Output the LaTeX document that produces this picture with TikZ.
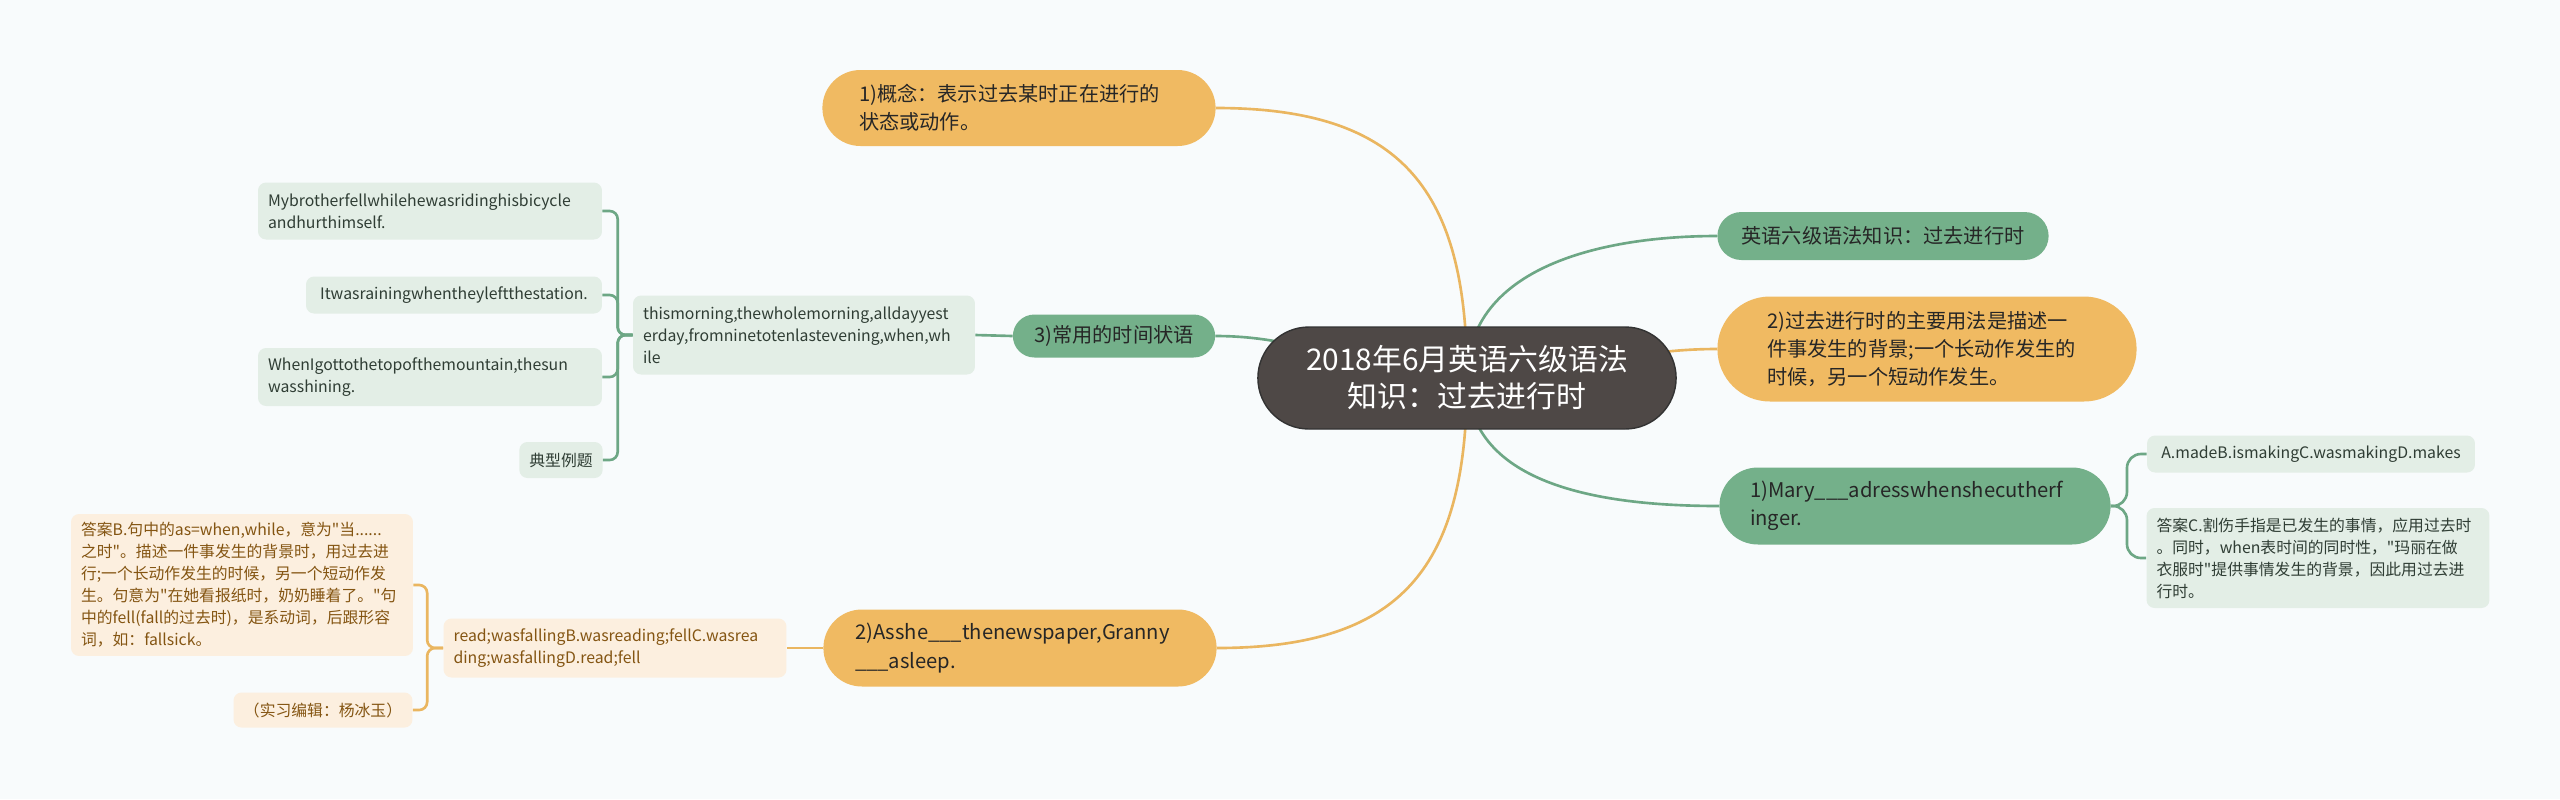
\documentclass[tikz,border=0pt]{standalone}
\usepackage{fontspec}
\setmainfont{Noto Sans CJK SC}[Ligatures=TeXOff]
\usetikzlibrary{shapes.misc}
\usetikzlibrary{backgrounds}
\definecolor{bgc}{HTML}{F8FBFC}
\definecolor{rootc}{HTML}{4E4846}
\definecolor{orangec}{HTML}{F0BA62}
\definecolor{greenc}{HTML}{74B08A}
\definecolor{oleafc}{HTML}{FCEFDF}
\definecolor{gleafc}{HTML}{E3EEE6}
\definecolor{olinec}{HTML}{EAB660}
\definecolor{glinec}{HTML}{6DA785}
\definecolor{otextc}{HTML}{845512}
\definecolor{gtextc}{HTML}{2F3D34}

\begin{document}
\begin{tikzpicture}[x=0.02cm, y=-0.02cm,
	rootnode/.style={rounded rectangle, fill=rootc, draw=black!80, line width=0.8pt, text=white,
		font=\fontsize{17}{21}\selectfont, align=center, minimum width=8.6cm, minimum height=2.04cm},
	onode/.style={rounded rectangle, fill=orangec, text=black!85, font=\fontsize{11.5}{16}\selectfont, align=left},
	gnode/.style={rounded rectangle, fill=greenc, text=black!85, font=\fontsize{11.5}{16}\selectfont, align=left},
	oleaf/.style={rectangle, rounded corners=0.16cm, fill=oleafc, text=otextc, font=\fontsize{9}{12.5}\selectfont,
		align=left, inner xsep=0.2cm, inner ysep=0.1cm},
	gleaf/.style={rectangle, rounded corners=0.16cm, fill=gleafc, text=gtextc, font=\fontsize{9}{12.5}\selectfont,
		align=left, inner xsep=0.2cm, inner ysep=0.1cm},
	oline/.style={draw=olinec, line width=1.5pt},
	gline/.style={draw=glinec, line width=1.5pt}]
	\useasboundingbox (0,0) rectangle (2560,799);
		%% centre
			\node[rootnode] (root) at (1467,378) {2018年6月英语六级语法\\知识：过去进行时};
		%% first level
			\node[onode, minimum width=8.1cm, minimum height=1.52cm, text width=6.4cm] (gainian) at (1019,108)
				{1)概念：表示过去某时正在进行的\\状态或动作。};
			\node[gnode, minimum width=6.86cm, minimum height=0.96cm] (yingyu) at (1883,236)
				{英语六级语法知识：过去进行时};
			\node[onode, minimum width=8.62cm, minimum height=2.1cm, text width=6.4cm] (guoqu) at (1927,349)
				{2)过去进行时的主要用法是描述一\\件事发生的背景;一个长动作发生的\\时候，另一个短动作发生。};
			\node[gnode, minimum width=8.06cm, minimum height=1.54cm, text width=6.6cm] (mary) at (1915,506)
				{1)Mary\_\_\_adresswhenshecutherf\\inger.};
			\node[gnode, minimum width=4.28cm, minimum height=0.86cm] (changyong) at (1114,336)
				{3)常用的时间状语};
			\node[onode, minimum width=8.1cm, minimum height=1.54cm, text width=6.6cm] (asshe) at (1020,648)
				{2)Asshe\_\_\_thenewspaper,Granny\\\_\_\_asleep.};
		%% leaves, left green
			\node[gleaf, minimum width=6.84cm, minimum height=1.58cm, text width=6.44cm] (thismorning) at (804,335)
				{thismorning,thewholemorning,alldayyest\\erday,fromninetotenlastevening,when,wh\\ile};
			\node[gleaf, minimum width=6.88cm, minimum height=1.14cm, text width=6.48cm] (mybrother) at (430,211)
				{Mybrotherfellwhilehewasridinghisbicycle\\andhurthimself.};
			\node[gleaf, minimum width=5.92cm, minimum height=0.74cm] (itwas) at (454,295)
				{Itwasrainingwhentheyleftthestation.};
			\node[gleaf, minimum width=6.88cm, minimum height=1.16cm, text width=6.48cm] (wheni) at (430,377)
				{WhenIgottothetopofthemountain,thesun\\wasshining.};
			\node[gleaf, minimum width=1.64cm, minimum height=0.72cm] (dianxing) at (561,460) {典型例题};
		%% leaves, right green
			\node[gleaf, minimum width=6.56cm, minimum height=0.74cm] (amade) at (2311,454)
				{A.madeB.ismakingC.wasmakingD.makes};
			\node[gleaf, minimum width=6.86cm, minimum height=2.0cm, text width=6.46cm] (daanc) at (2318,558)
				{答案C.割伤手指是已发生的事情，应用过去时\\。同时，when表时间的同时性，"玛丽在做\\衣服时"提供事情发生的背景，因此用过去进\\行时。};
		%% leaves, left orange
			\node[oleaf, minimum width=6.86cm, minimum height=1.18cm, text width=6.46cm] (read) at (615,648)
				{read;wasfallingB.wasreading;fellC.wasrea\\ding;wasfallingD.read;fell};
			\node[oleaf, minimum width=6.84cm, minimum height=2.84cm, text width=6.44cm] (daanb) at (242,585)
				{答案B.句中的as=when,while，意为"当......\\之时"。描述一件事发生的背景时，用过去进\\行;一个长动作发生的时候，另一个短动作发\\生。句意为"在她看报纸时，奶奶睡着了。"句\\中的fell(fall的过去时)，是系动词，后跟形容\\词，如：fallsick。};
			\node[oleaf, minimum width=3.58cm, minimum height=0.7cm] (shixi) at (323,710)
				{（实习编辑：杨冰玉）};
		%% connectors
			\begin{scope}[on background layer]
				\fill[bgc] (0,0) rectangle (2560,799);
				\draw[oline] (root.center) to[out=90,in=0,looseness=1.3] (gainian.east);
				\draw[gline] (root.center) to[out=90,in=180] (yingyu.west);
				\draw[oline] (root.center) to[out=0,in=180] (guoqu.west);
				\draw[gline] (root.center) to[out=-90,in=180] (mary.west);
				\draw[gline] (root.center) to[out=180,in=0] (changyong.east);
				\draw[oline] (root.center) to[out=-90,in=0,looseness=1.3] (asshe.east);
			\end{scope}
			\draw[gline] (changyong.west) -- (thismorning.east);
			\draw[oline] (asshe.west) -- (read.east);
			\draw[gline, rounded corners=0.16cm] (thismorning.west) -- ++(-15,0) |- (mybrother.east);
			\draw[gline, rounded corners=0.16cm] (thismorning.west) -- ++(-15,0) |- (itwas.east);
			\draw[gline, rounded corners=0.16cm] (thismorning.west) -- ++(-15,0) |- (wheni.east);
			\draw[gline, rounded corners=0.16cm] (thismorning.west) -- ++(-15,0) |- (dianxing.east);
			\draw[gline, rounded corners=0.28cm] (mary.east) -- ++(16,0) |- (amade.west);
			\draw[gline, rounded corners=0.28cm] (mary.east) -- ++(16,0) |- (daanc.west);
			\draw[oline, rounded corners=0.16cm] (read.west) -- ++(-16,0) |- (daanb.east);
			\draw[oline, rounded corners=0.16cm] (read.west) -- ++(-16,0) |- (shixi.east);
\end{tikzpicture}
\end{document}
